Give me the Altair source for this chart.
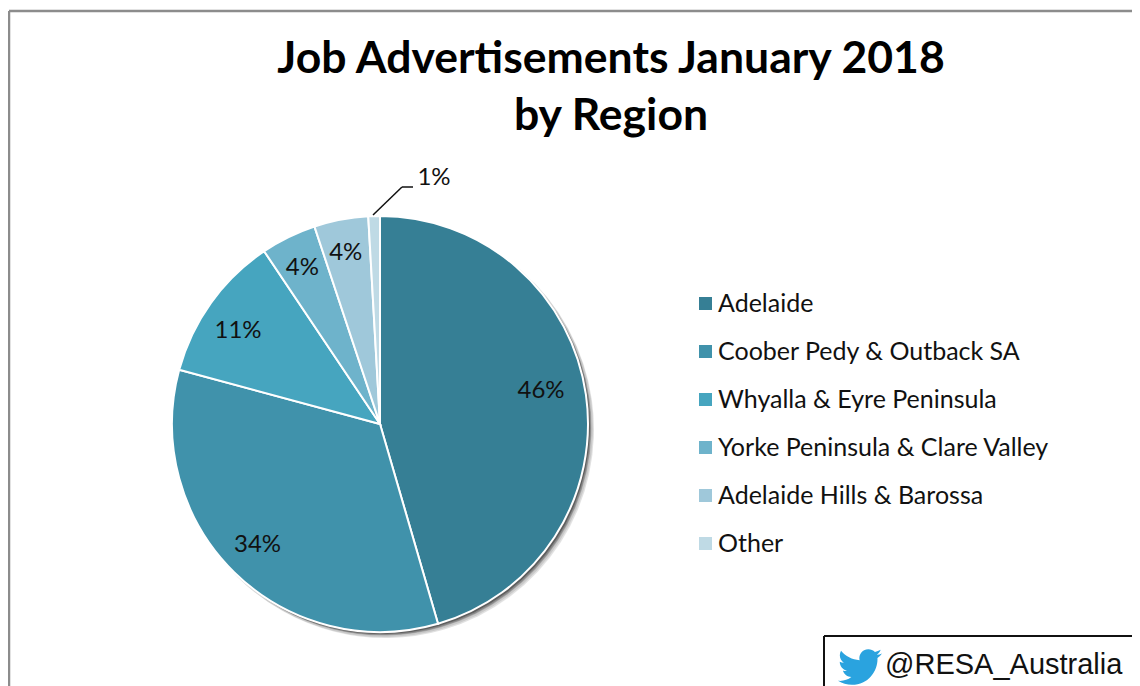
import altair as alt
import pandas as pd

regions = ["Adelaide", "Coober Pedy & Outback SA", "Whyalla & Eyre Peninsula",
           "Yorke Peninsula & Clare Valley", "Adelaide Hills & Barossa", "Other"]
shares = [45.5, 33.7, 11.4, 4.3, 4.2, 0.9]
labels = ["46%", "34%", "11%", "4%", "4%", "1%"]
colors = ["#367F95", "#4092AB", "#46A5BF", "#6EB3CB", "#9FC8DA", "#BFDAE5"]
title_lines = ["Job Advertisements January 2018", "by Region"]
handle = "@RESA_Australia"

OX = 8
CX, CY, R = 380 - OX, 424 - OX, 208

BIRD = ("M11.953 -7.43 a10 10 0 0 1 -2.825 .775 a4.958 4.958 0 0 0 2.163 -2.723 "
        "c-.951 .555 -2.005 .959 -3.127 1.184 a4.92 4.92 0 0 0 -8.384 4.482 "
        "C-4.31 -3.905 -7.933 -5.87 -10.36 -8.838 a4.822 4.822 0 0 0 -.666 2.475 "
        "c0 1.71 .87 3.213 2.188 4.096 a4.904 4.904 0 0 1 -2.228 -.616 v.06 "
        "a4.923 4.923 0 0 0 3.946 4.827 a4.996 4.996 0 0 1 -2.212 .085 "
        "a4.936 4.936 0 0 0 4.604 3.417 a9.867 9.867 0 0 1 -6.102 2.105 "
        "c-.39 0 -.779 -.023 -1.17 -.067 a13.995 13.995 0 0 0 7.557 2.209 "
        "c9.053 0 13.998 -7.496 13.998 -13.985 c0 -.21 0 -.42 -.015 -.63 "
        "A9.935 9.935 0 0 0 12 -7.41 z")

df = pd.DataFrame({"region": regions, "share": shares, "label": labels,
                   "idx": list(range(len(regions)))})
base = alt.Chart(df)
theta = alt.Theta("share:Q", stack=True, scale=alt.Scale(domain=[0, sum(shares)], range=[0, 6.28318530718]))
order = alt.Order("idx:Q")


def seg(x1, y1, x2, y2, color, w):
    return alt.Chart(pd.DataFrame({"a": [0]})).mark_rule(color=color, strokeWidth=w).encode(
        x=alt.value(x1 - OX), x2=alt.value(x2 - OX), y=alt.value(y1 - OX), y2=alt.value(y2 - OX))


def shadow(dx, rad, op):
    return base.mark_arc(outerRadius=rad, color="#000000", opacity=op).encode(
        theta=theta, order=order, x=alt.value(CX + dx), y=alt.value(CY + dx))


def txt(s, x, y, size, **kw):
    return alt.Chart(pd.DataFrame({"t": [s]})).mark_text(fontSize=size, **kw).encode(
        text="t:N", x=alt.value(x - OX), y=alt.value(y - OX))


frame = [
    seg(9, 11, 1140, 11, "#8C8C8C", 2.5),
    seg(9, 11, 9, 686, "#8C8C8C", 2.5),
]
box = [
    seg(824, 636, 1140, 636, "#111111", 2),
    seg(824, 636, 824, 686, "#111111", 2),
]

shadows = [shadow(6, R, 0.05), shadow(5, R + 1, 0.07), shadow(4, R + 1, 0.10),
           shadow(3.5, R, 0.15), shadow(3, R, 0.2), shadow(2, R, 0.3)]

pie = base.mark_arc(outerRadius=R, stroke="white", strokeWidth=2).encode(
    theta=theta, order=order,
    x=alt.value(CX), y=alt.value(CY),
    color=alt.Color("region:N", sort=regions,
                    scale=alt.Scale(domain=regions, range=colors),
                    legend=alt.Legend(title=None, orient="none", legendX=693 - OX, legendY=291 - OX,
                                      symbolType="square", symbolSize=169, symbolStrokeWidth=0,
                                      labelFont="Lato", labelFontSize=25, labelColor="#111111",
                                      labelLimit=400, labelOffset=0, rowPadding=22)),
)

F = "Lato"
# every row stays in the stack; only the labels that sit on the common radius are shown here
pct = base.transform_calculate(
    inner="datum.idx == 1 || datum.idx == 3 || datum.idx == 4 ? datum.label : ''"
).mark_text(radius=172, dx=-2, dy=-2, font=F, fontSize=24, color="#111111").encode(
    theta=theta, order=order, text="inner:N", x=alt.value(CX), y=alt.value(CY))

adel = txt(labels[0], 541, 391, 24, font=F, color="#111111")
whyalla = txt(labels[2], 238, 331, 24, font=F, color="#111111")
oth = txt(labels[5], 434, 178, 24, font=F, color="#111111")

leader = [seg(373, 215, 402, 187, "#111111", 1.5), seg(402, 187, 413, 187, "#111111", 1.5)]

titles = [txt(title_lines[0], 611, 60, 44.5, font=F, fontWeight="bold", color="#000000"),
          txt(title_lines[1], 611, 117, 44.5, font=F, fontWeight="bold", color="#000000")]

bird = alt.Chart(pd.DataFrame({"a": [0]})).mark_point(
    shape=BIRD, size=13.4, filled=True, color="#2AA3DF", opacity=1, strokeWidth=0).encode(
    x=alt.value(860 - OX), y=alt.value(667 - OX))
tw = txt(handle, 885, 665, 29, font="Liberation Sans", align="left", color="#111111")

chart = alt.layer(*frame, *box, *shadows, pie, pct, adel, whyalla, oth, *leader, *titles, bird, tw).properties(
    width=1124, height=678, padding=0, autosize="none", background="white"
).configure_view(stroke=None)

chart.save("out.html", embed_options={"renderer": "svg", "actions": False})
